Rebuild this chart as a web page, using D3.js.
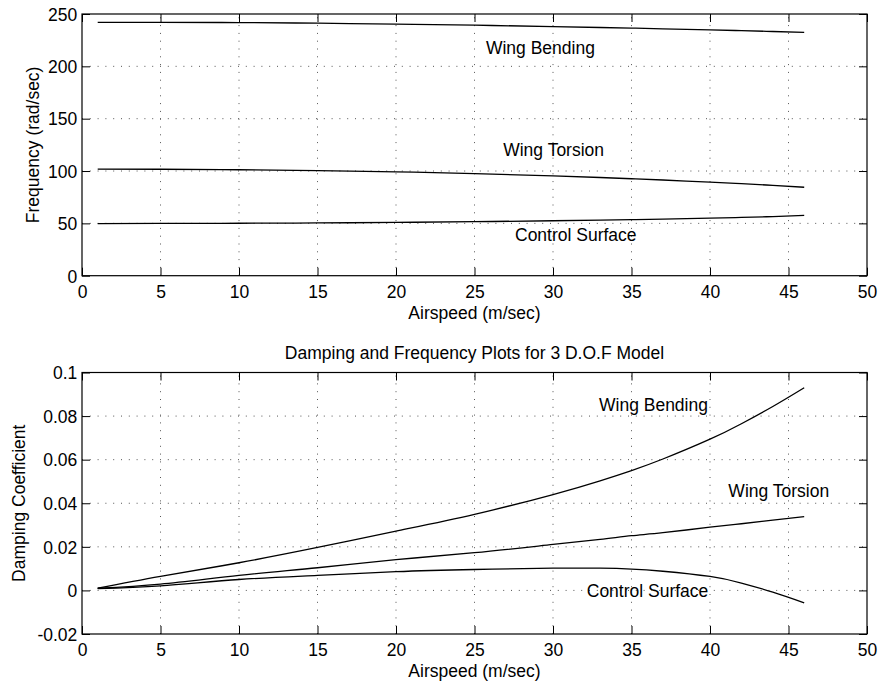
<!DOCTYPE html>
<html>
<head>
<meta charset="utf-8">
<script src="https://cdn.jsdelivr.net/npm/d3@7/dist/d3.min.js"></script>
<style>
  html, body { margin: 0; padding: 0; background: #fff; }
  svg { display: block; }
  text { font-family: "Liberation Sans", Arial, Helvetica, sans-serif; font-size: 17.5px; fill: #000; }
</style>
</head>
<body>
<svg id="chart" width="881" height="686"></svg>
<script>
// Airspeed samples (m/sec) shared by every curve
const airspeed = [1, 5, 10, 15, 20, 25, 30, 33, 35, 37, 40, 42, 44, 46];

// Modal frequencies (rad/sec)
const freqBending = [242.0, 242.0, 241.8, 241.2, 240.3, 239.3, 238.0, 237.1, 236.5, 235.8, 234.8, 234.1, 233.3, 232.5];
const freqTorsion = [101.8, 101.7, 101.2, 100.4, 99.2, 97.5, 95.4, 93.8, 92.6, 91.4, 89.4, 87.9, 86.3, 84.5];
const freqControl = [49.8, 49.9, 50.1, 50.4, 50.9, 51.6, 52.5, 53.1, 53.6, 54.1, 55.0, 55.7, 56.5, 57.6];

// Damping coefficients
const dampBending = [0.0010, 0.0064, 0.0127, 0.0197, 0.0272, 0.0349, 0.0440, 0.0503, 0.0550, 0.0603, 0.0694, 0.0765, 0.0844, 0.0930];
const dampTorsion = [0.0010, 0.0029, 0.0069, 0.0104, 0.0141, 0.0173, 0.0211, 0.0234, 0.0251, 0.0265, 0.0290, 0.0306, 0.0323, 0.0339];
const dampControl = [0.0008, 0.0021, 0.0050, 0.0069, 0.0086, 0.0096, 0.0102, 0.0102, 0.0098, 0.0088, 0.0064, 0.0034, -0.0008, -0.0057];

// Tick values and labels
const xTicks = [0, 5, 10, 15, 20, 25, 30, 35, 40, 45, 50];
const xTickLabels = ["0", "5", "10", "15", "20", "25", "30", "35", "40", "45", "50"];
const freqTicks = [0, 50, 100, 150, 200, 250];
const freqTickLabels = ["0", "50", "100", "150", "200", "250"];
const dampTicks = [-0.02, 0, 0.02, 0.04, 0.06, 0.08, 0.1];
const dampTickLabels = ["-0.02", "0", "0.02", "0.04", "0.06", "0.08", "0.1"];

// Curve names placed in data coordinates
const freqLabels = [
  { text: "Wing Bending", x: 25.73, y: 218.2 },
  { text: "Wing Torsion", x: 26.83, y: 120.7 },
  { text: "Control Surface", x: 27.58, y: 38.9 }
];
const dampLabels = [
  { text: "Wing Bending", x: 32.93, y: 0.0854 },
  { text: "Wing Torsion", x: 41.17, y: 0.0458 },
  { text: "Control Surface", x: 32.15, y: -0.0003 }
];

const svg = d3.select("#chart");
const left = 82, right = 867;

function drawPanel(opts) {
  const x = d3.scaleLinear().domain([0, 50]).range([left, right]);
  const y = d3.scaleLinear().domain(opts.yDomain).range([opts.bottom, opts.top]);
  const g = svg.append("g");

  // dotted grid
  const grid = g.append("g").attr("stroke", "#555").attr("stroke-width", 1)
    .attr("stroke-dasharray", "1,6.8");
  xTicks.filter(t => t > 0 && t < 50).forEach(t => {
    grid.append("line").attr("x1", x(t)).attr("x2", x(t))
      .attr("y1", opts.bottom).attr("y2", opts.top);
  });
  opts.yTicks.filter(t => t > opts.yDomain[0] && t < opts.yDomain[1]).forEach(t => {
    grid.append("line").attr("x1", left).attr("x2", right)
      .attr("y1", y(t)).attr("y2", y(t));
  });

  // axes with inward ticks on all four sides
  const fmtX = d => xTickLabels[xTicks.indexOf(d)];
  const fmtY = d => opts.yTickLabels[opts.yTicks.indexOf(d)];

  const gx = g.append("g").attr("transform", `translate(0,${opts.bottom})`)
    .call(d3.axisBottom(x).tickValues(xTicks).tickFormat(fmtX).tickSize(-8).tickSizeOuter(0));
  gx.selectAll("text").attr("y", 16).attr("dy", "0.36em");

  const gy = g.append("g").attr("transform", `translate(${left},0)`)
    .call(d3.axisLeft(y).tickValues(opts.yTicks).tickFormat(fmtY).tickSize(-8).tickSizeOuter(0));
  gy.selectAll("text").attr("x", -4.7).attr("dy", "0.36em");

  g.append("g").attr("transform", `translate(0,${opts.top})`)
    .call(d3.axisTop(x).tickValues(xTicks).tickFormat("").tickSize(-8).tickSizeOuter(0));
  g.append("g").attr("transform", `translate(${right},0)`)
    .call(d3.axisRight(y).tickValues(opts.yTicks).tickFormat("").tickSize(-8).tickSizeOuter(0));

  g.selectAll(".domain").remove();
  g.selectAll(".tick line").attr("stroke", "#000").attr("stroke-width", 1);
  g.selectAll(".tick text").attr("font-size", null).attr("font-family", null).attr("fill", "#000");

  g.append("rect").attr("x", left).attr("y", opts.top)
    .attr("width", right - left).attr("height", opts.bottom - opts.top)
    .attr("fill", "none").attr("stroke", "#000").attr("stroke-width", 1.2);

  // smooth curves through the sampled points
  const line = d3.line().x((d, i) => x(airspeed[i])).y(d => y(d)).curve(d3.curveNatural);
  opts.series.forEach(s => {
    g.append("path").attr("d", line(s)).attr("fill", "none")
      .attr("stroke", "#000").attr("stroke-width", 1.3);
  });

  // curve names
  opts.labels.forEach(l => {
    g.append("text").attr("x", x(l.x)).attr("y", y(l.y)).attr("dy", "0.36em").text(l.text);
  });

  // axis titles
  g.append("text").attr("x", (left + right) / 2).attr("y", opts.xLabelY).attr("dy", "0.36em")
    .attr("text-anchor", "middle").text("Airspeed (m/sec)");
  g.append("text")
    .attr("transform", `translate(${opts.yLabelX},${(opts.top + opts.bottom) / 2}) rotate(-90)`)
    .attr("dy", "0.36em").attr("text-anchor", "middle").text(opts.yLabel);
}

drawPanel({
  top: 14, bottom: 275.7, yDomain: [0, 250],
  yTicks: freqTicks, yTickLabels: freqTickLabels,
  series: [freqBending, freqTorsion, freqControl],
  labels: freqLabels,
  xLabelY: 312.7, yLabelX: 32.7, yLabel: "Frequency (rad/sec)"
});

drawPanel({
  top: 372.5, bottom: 634, yDomain: [-0.02, 0.1],
  yTicks: dampTicks, yTickLabels: dampTickLabels,
  series: [dampBending, dampTorsion, dampControl],
  labels: dampLabels,
  xLabelY: 671, yLabelX: 18.3, yLabel: "Damping Coefficient"
});

svg.append("text").attr("x", (left + right) / 2).attr("y", 353).attr("dy", "0.36em")
  .attr("text-anchor", "middle").text("Damping and Frequency Plots for 3 D.O.F Model");
</script>
</body>
</html>
